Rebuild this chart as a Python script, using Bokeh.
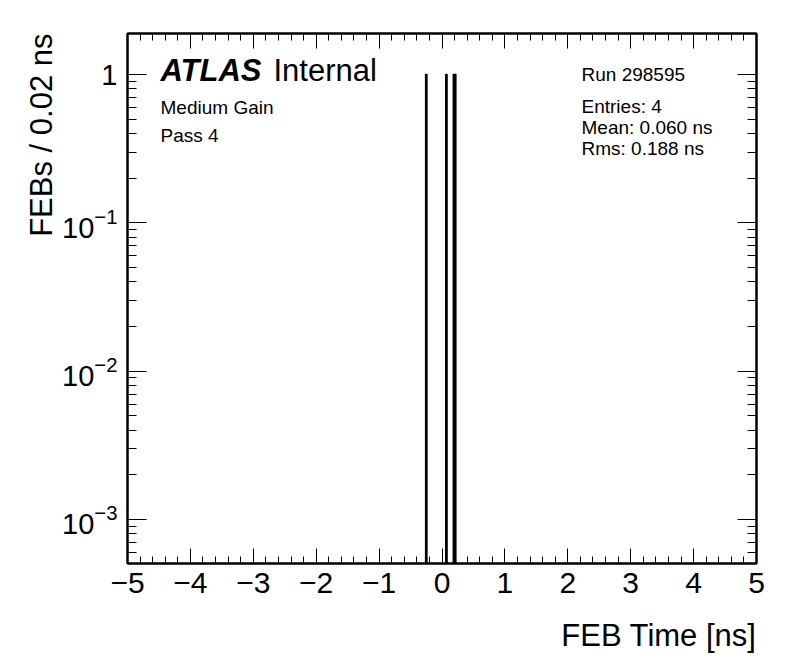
import numpy as np
from bokeh.plotting import figure
from bokeh.models import (FixedTicker, LinearAxis, LogAxis, Title, Label,
                          CustomLabelingPolicy)
from bokeh.embed import file_html
from bokeh.resources import INLINE

# ---- data ----
bin_low = [-0.26, 0.06, 0.18, 0.20]
bin_high = [-0.24, 0.08, 0.20, 0.22]
counts = [1, 1, 1, 1]

x_ticks = [-5, -4, -3, -2, -1, 0, 1, 2, 3, 4, 5]
x_tick_labels = ["\u22125", "\u22124", "\u22123", "\u22122", "\u22121", "0", "1", "2", "3", "4", "5"]
y_ticks = [0.001, 0.01, 0.1, 1]

x_title = "FEB Time [ns]"
y_title = "FEBs / 0.02 ns"
info_left = ["Medium Gain", "Pass 4"]
run_text = "Run 298595"
stats_text = ["Entries: 4", "Mean: 0.060 ns", "Rms: 0.188 ns"]

y_min, y_max = 5.05e-4, 1.89
FONT = "Liberation Sans"

p = figure(width=796, height=672, x_range=(-5, 5), y_range=(y_min, y_max),
           y_axis_type="log", output_backend="svg", toolbar_location=None,
           min_border_left=127, min_border_right=40, min_border_top=33,
           min_border_bottom=109)
p.xgrid.visible = False
p.ygrid.visible = False
p.outline_line_color = "black"
p.outline_line_width = 2
p.background_fill_color = "white"
p.border_fill_color = "white"

bottoms = [y_min * 0.5] * len(counts)
p.quad(left=bin_low, right=bin_high, top=counts, bottom=bottoms,
       fill_color="black", line_color="black", line_width=1.5)

x_minor = [v for v in np.round(np.arange(-5, 5.001, 0.2), 2) if v not in x_ticks]
y_minor = []
for dec in [1e-4, 1e-3, 1e-2, 1e-1]:
    for m in range(2, 10):
        y_minor.append(m * dec)
xt = FixedTicker(ticks=x_ticks, minor_ticks=x_minor)
yt = FixedTicker(ticks=y_ticks, minor_ticks=y_minor)

hide_code = """
const n = indices.size;
for (let i = 0; i < n; i++) {
  if (typeof indices.unset === "function") { indices.unset(i); }
  else { indices.set(i, false); }
}
return indices;
"""


def style_x(ax, show):
    ax.ticker = xt
    ax.major_tick_in = 15
    ax.major_tick_out = 0
    ax.minor_tick_in = 7
    ax.minor_tick_out = 0
    ax.axis_line_width = 2
    ax.major_tick_line_width = 1
    ax.minor_tick_line_width = 1
    if show:
        ax.major_label_overrides = {t: s for t, s in zip(x_ticks, x_tick_labels)}
        ax.major_label_text_font = FONT
        ax.major_label_text_font_size = "30px"
        ax.major_label_text_color = "black"
        ax.major_label_standoff = 9
    else:
        ax.major_label_text_font_size = "1px"
        ax.major_label_standoff = 0
        ax.major_label_policy = CustomLabelingPolicy(code=hide_code)


def style_y(ax, show):
    ax.ticker = yt
    ax.major_tick_in = 19
    ax.major_tick_out = 0
    ax.minor_tick_in = 9
    ax.minor_tick_out = 0
    ax.axis_line_width = 2
    ax.major_tick_line_width = 1
    ax.minor_tick_line_width = 1
    if show:
        ax.major_label_overrides = {1: "1"}
        ax.major_label_text_font = FONT
        ax.major_label_text_font_size = "29px"
        ax.major_label_text_color = "black"
        ax.major_label_standoff = 10
    else:
        ax.major_label_text_font_size = "1px"
        ax.major_label_standoff = 0
        ax.major_label_policy = CustomLabelingPolicy(code=hide_code)


style_x(p.xaxis[0], True)
style_y(p.yaxis[0], True)
top_ax = LinearAxis()
style_x(top_ax, False)
p.add_layout(top_ax, "above")
right_ax = LogAxis()
style_y(right_ax, False)
p.add_layout(right_ax, "right")

p.add_layout(Title(text=x_title, align="right", text_font=FONT, text_font_size="31px",
                   text_font_style="normal", text_color="black", standoff=40), "below")
p.add_layout(Title(text=y_title, align="right", text_font=FONT, text_font_size="31px",
                   text_font_style="normal", text_color="black", standoff=2), "left")

# in-plot texts
p.add_layout(Label(x=-4.475, y=1.06, text="ATLAS", text_font=FONT, text_font_size="31px",
                   text_font_style="bold italic", text_baseline="middle", text_color="black"))
p.add_layout(Label(x=-2.68, y=1.06, text="Internal", text_font=FONT, text_font_size="31px",
                   text_baseline="middle", text_color="black"))
for txt, yy in zip(info_left, [0.599, 0.388]):
    p.add_layout(Label(x=-4.475, y=yy, text=txt, text_font=FONT, text_font_size="19px",
                       text_baseline="middle", text_color="black"))
p.add_layout(Label(x=2.218, y=1.0, text=run_text, text_font=FONT, text_font_size="19px",
                   text_baseline="middle", text_color="black"))
for txt, yy in zip(stats_text, [0.608, 0.439, 0.317]):
    p.add_layout(Label(x=2.218, y=yy, text=txt, text_font=FONT, text_font_size="19px",
                       text_baseline="middle", text_color="black"))

open("out.html", "w").write(file_html(p, INLINE))
